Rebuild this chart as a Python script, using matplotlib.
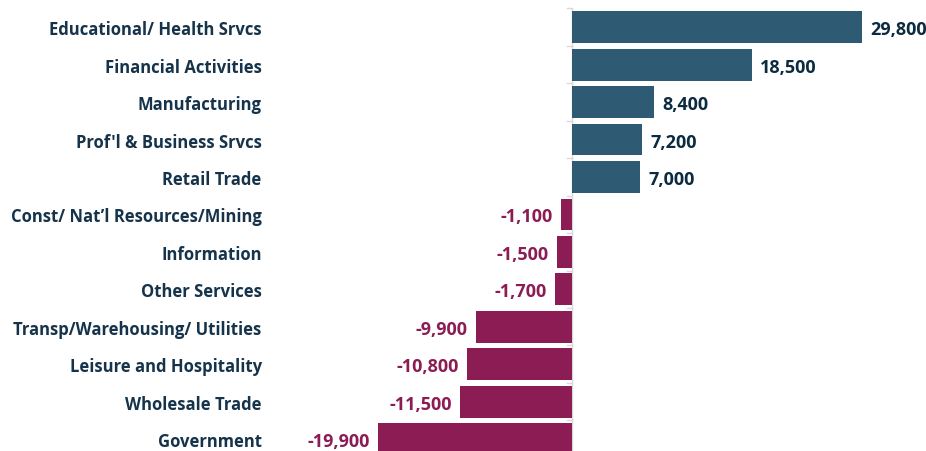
import matplotlib.pyplot as plt

# Data
categories = ['Educational/ Health Srvcs', 'Financial Activities', 'Manufacturing',
              "Prof'l & Business Srvcs", 'Retail Trade', 'Const/ Nat\u2019l Resources/Mining',
              'Information', 'Other Services', 'Transp/Warehousing/ Utilities',
              'Leisure and Hospitality', 'Wholesale Trade', 'Government']
values = [29800, 18500, 8400, 7200, 7000, -1100, -1500, -1700, -9900, -10800, -11500, -19900]

pos_color = '#2E5A74'
neg_color = '#8B1C54'
label_color = '#15334A'

plt.rcParams['font.family'] = ['Open Sans', 'DejaVu Sans']

fig = plt.figure(figsize=(9.26, 4.52), dpi=100)
ax = fig.add_axes([270/926, -0.015, 656/926, 0.994])

y = list(range(len(categories)))
colors = [pos_color if v >= 0 else neg_color for v in values]
ax.barh(y, values, height=0.85, color=colors)

ax.set_xlim(-31040, 36380)
ax.set_ylim(len(categories) - 0.5, -0.5)

# zero line and small ticks between categories
ax.axvline(0, color='#d9d9d9', lw=1, zorder=0)
for i in range(len(categories) + 1):
    ax.plot([-550, 0], [i - 0.5, i - 0.5], color='#d9d9d9', lw=1, zorder=0, clip_on=False)

# value labels
for yi, v in zip(y, values):
    txt = f'{v:,}'
    if v >= 0:
        ax.annotate(txt, (v, yi), xytext=(6, -1.5), textcoords='offset points',
                    ha='left', va='center', fontsize=13, fontweight='bold', color='#0C2B40')
    else:
        ax.annotate(txt, (v, yi), xytext=(-6, -1.5), textcoords='offset points',
                    ha='right', va='center', fontsize=13, fontweight='bold', color=neg_color)

ax.set_yticks(y)
ax.set_yticklabels(categories, fontsize=12, fontweight='bold', color=label_color)
ax.tick_params(axis='y', length=0, pad=6)
ax.set_xticks([])
for s in ax.spines.values():
    s.set_visible(False)

fig.savefig('out.png', dpi=100)
